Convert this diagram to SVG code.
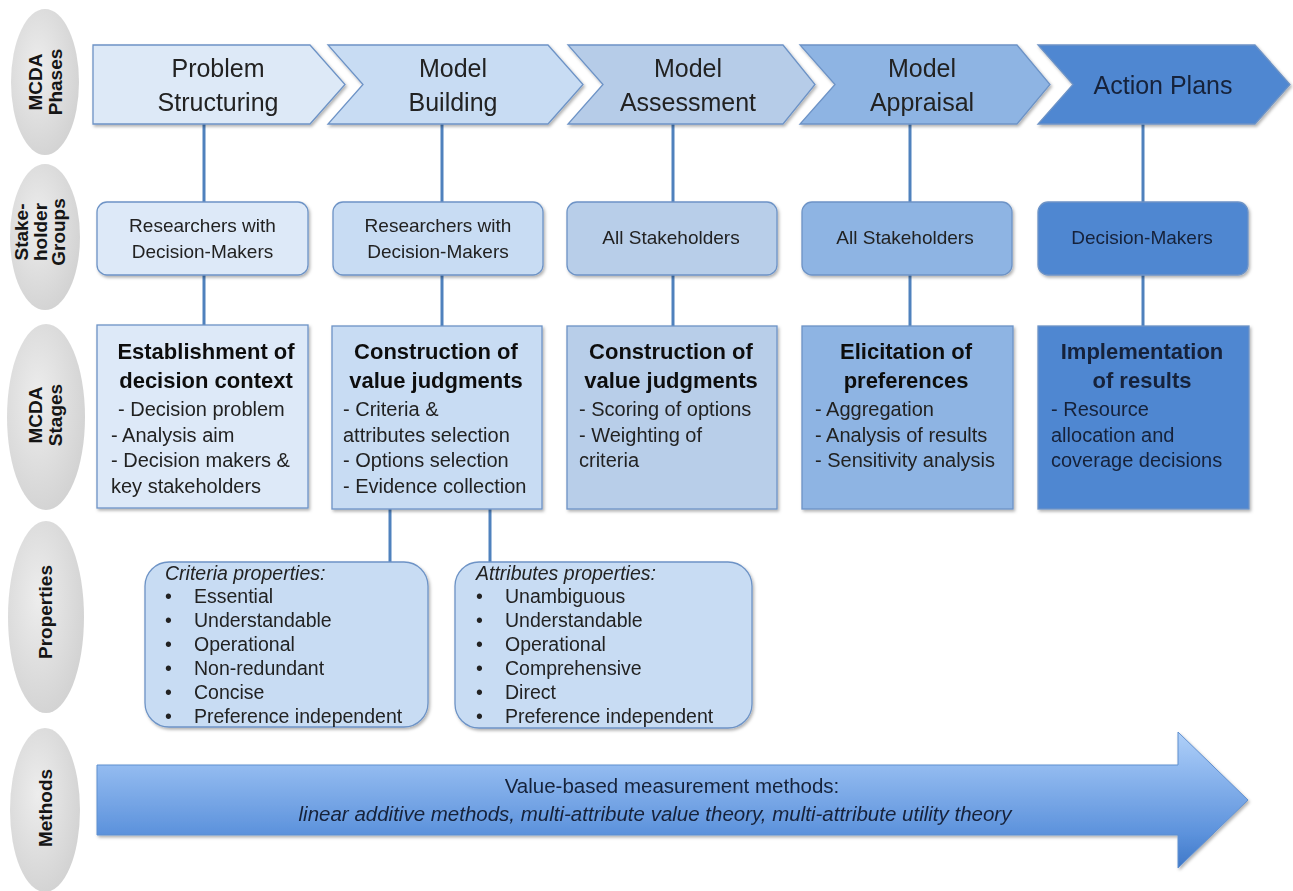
<svg xmlns="http://www.w3.org/2000/svg" width="1293" height="891" viewBox="0 0 1293 891">
<defs>
<style>
text{font-family:"Liberation Sans",Arial,sans-serif;fill:#222}
.lbl{font-weight:bold;font-size:19px;text-anchor:middle;fill:#151515}
.ph{font-size:25px;text-anchor:middle}
.sh{font-size:19px;text-anchor:middle}
.tt{font-size:22px;font-weight:bold;text-anchor:middle;fill:#111}
.it{font-size:20px}
.pr{font-size:19.5px}
.pt{font-size:19.5px;font-style:italic}
.box{stroke:#6d93c6;stroke-width:1.3}
.con{stroke:#4f81bd;stroke-width:3;fill:none}
.dk{fill:#16223a}
</style>
<radialGradient id="eg" cx="0.4" cy="0.4" r="0.7"><stop offset="0" stop-color="#ededed"/><stop offset="1" stop-color="#d0d0d0"/></radialGradient>
<linearGradient id="ag" gradientUnits="userSpaceOnUse" x1="0" y1="732" x2="0" y2="868"><stop offset="0" stop-color="#b0d0f8"/><stop offset="0.25" stop-color="#93bbf0"/><stop offset="0.75" stop-color="#5c92dc"/><stop offset="1" stop-color="#3f78c8"/></linearGradient>
<filter id="sd" x="-5%" y="-5%" width="115%" height="125%"><feDropShadow dx="1.5" dy="2" stdDeviation="1.5" flood-color="#000" flood-opacity="0.3"/></filter>
</defs>
<rect width="1293" height="891" fill="#fff"/>

<g id="row-labels">
<g id="lbl-phases"><ellipse cx="45" cy="82" rx="34" ry="73" fill="url(#eg)"/>
<g transform="translate(45,82) rotate(-90)"><text class="lbl" x="0" y="-3">MCDA</text><text class="lbl" x="0" y="17">Phases</text></g></g>
<g id="lbl-groups"><ellipse cx="45" cy="237" rx="35" ry="73" fill="url(#eg)"/>
<g transform="translate(45,232) rotate(-90)"><text class="lbl" x="0" y="-17">Stake-</text><text class="lbl" x="0" y="2">holder</text><text class="lbl" x="0" y="20">Groups</text></g></g>
<g id="lbl-stages"><ellipse cx="46" cy="417" rx="39" ry="93" fill="url(#eg)"/>
<g transform="translate(45,415) rotate(-90)"><text class="lbl" x="0" y="-3">MCDA</text><text class="lbl" x="0" y="17">Stages</text></g></g>
<g id="lbl-properties"><ellipse cx="46" cy="617" rx="38" ry="96" fill="url(#eg)"/>
<g transform="translate(45,612) rotate(-90)"><text class="lbl" x="0" y="7">Properties</text></g></g>
<g id="lbl-methods"><ellipse cx="45" cy="810" rx="35" ry="82" fill="url(#eg)"/>
<g transform="translate(45,808) rotate(-90)"><text class="lbl" x="0" y="7">Methods</text></g></g>
</g>

<g id="connectors">
<path class="con" d="M204,124V202M204,275V325M442,124V202M442,275V326M673,124V202M673,275V326M910,124V202M910,275V326M1143,124V202M1143,275V326M390,509V562M490,509V562"/>
</g>

<g id="phase-1" filter="url(#sd)"><path class="box" d="M93,45H310L345,84.5L310,124H93Z" fill="#dde9f7"/>
<text class="ph" x="218" y="77">Problem</text><text class="ph" x="218" y="111">Structuring</text></g>
<g id="phase-2" filter="url(#sd)"><path class="box" d="M328,45H548L583,84.5L548,124H328L363,84.5Z" fill="#c8dcf3"/>
<text class="ph" x="453" y="77">Model</text><text class="ph" x="453" y="111">Building</text></g>
<g id="phase-3" filter="url(#sd)"><path class="box" d="M568,45H783L815,84.5L783,124H568L603,84.5Z" fill="#b6cce8"/>
<text class="ph" x="688" y="77">Model</text><text class="ph" x="688" y="111">Assessment</text></g>
<g id="phase-4" filter="url(#sd)"><path class="box" d="M800,45H1017L1050,84.5L1017,124H800L835,84.5Z" fill="#8eb4e3"/>
<text class="ph" x="922" y="77">Model</text><text class="ph" x="922" y="111">Appraisal</text></g>
<g id="phase-5" filter="url(#sd)"><path class="box" d="M1038,45H1255L1290,84.5L1255,124H1038L1073,84.5Z" fill="#4f87d1"/>
<text class="ph dk" x="1163" y="94">Action Plans</text></g>

<g id="group-1" filter="url(#sd)"><rect class="box" x="97" y="202" width="211" height="73" rx="10" fill="#dde9f8"/>
<text class="sh" x="202.5" y="232">Researchers with</text><text class="sh" x="202.5" y="258">Decision-Makers</text></g>
<g id="group-2" filter="url(#sd)"><rect class="box" x="333" y="202" width="210" height="73" rx="10" fill="#c8dcf3"/>
<text class="sh" x="438" y="232">Researchers with</text><text class="sh" x="438" y="258">Decision-Makers</text></g>
<g id="group-3" filter="url(#sd)"><rect class="box" x="567" y="202" width="210" height="73" rx="10" fill="#b8cee9"/>
<text class="sh" x="671" y="244">All Stakeholders</text></g>
<g id="group-4" filter="url(#sd)"><rect class="box" x="802" y="202" width="210" height="73" rx="10" fill="#8eb4e3"/>
<text class="sh" x="905" y="244">All Stakeholders</text></g>
<g id="group-5" filter="url(#sd)"><rect class="box" x="1038" y="202" width="210" height="73" rx="10" fill="#4f87d1"/>
<text class="sh dk" x="1142" y="244">Decision-Makers</text></g>

<g id="stage-1" filter="url(#sd)"><rect class="box" x="97" y="325" width="211" height="183" fill="#dde9f8"/>
<text class="tt" x="206" y="359">Establishment of</text><text class="tt" x="206" y="388">decision context</text>
<text class="it" x="118" y="416">- Decision problem</text><text class="it" x="111" y="442">- Analysis aim</text><text class="it" x="111" y="467">- Decision makers &amp;</text><text class="it" x="111" y="493">key stakeholders</text></g>
<g id="stage-2" filter="url(#sd)"><rect class="box" x="332" y="326" width="210" height="183" fill="#c8dcf3"/>
<text class="tt" x="436" y="359">Construction of</text><text class="tt" x="436" y="388">value judgments</text>
<text class="it" x="343" y="416">- Criteria &amp;</text><text class="it" x="343" y="442">attributes selection</text><text class="it" x="343" y="467">- Options selection</text><text class="it" x="343" y="493">- Evidence collection</text></g>
<g id="stage-3" filter="url(#sd)"><rect class="box" x="567" y="326" width="210" height="183" fill="#b8cee9"/>
<text class="tt" x="671" y="359">Construction of</text><text class="tt" x="671" y="388">value judgments</text>
<text class="it" x="579" y="416">- Scoring of options</text><text class="it" x="579" y="442">- Weighting of</text><text class="it" x="579" y="467">criteria</text></g>
<g id="stage-4" filter="url(#sd)"><rect class="box" x="802" y="326" width="211" height="183" fill="#8eb4e3"/>
<text class="tt" x="906" y="359">Elicitation of</text><text class="tt" x="906" y="388">preferences</text>
<text class="it" x="815" y="416">- Aggregation</text><text class="it" x="815" y="442">- Analysis of results</text><text class="it" x="815" y="467">- Sensitivity analysis</text></g>
<g id="stage-5" filter="url(#sd)"><rect class="box" x="1038" y="326" width="211" height="183" fill="#4f87d1"/>
<text class="tt dk" x="1142" y="359">Implementation</text><text class="tt dk" x="1142" y="388">of results</text>
<text class="it dk" x="1051" y="416">- Resource</text><text class="it dk" x="1051" y="442">allocation and</text><text class="it dk" x="1051" y="467">coverage decisions</text></g>

<g id="criteria-properties" filter="url(#sd)"><rect class="box" x="145" y="562" width="283" height="165" rx="24" fill="#c8dcf3"/>
<text class="pt" x="165" y="580">Criteria properties:</text>
<g class="pr"><text x="165" y="603">•</text><text x="194" y="603">Essential</text>
<text x="165" y="627">•</text><text x="194" y="627">Understandable</text>
<text x="165" y="651">•</text><text x="194" y="651">Operational</text>
<text x="165" y="675">•</text><text x="194" y="675">Non-redundant</text>
<text x="165" y="699">•</text><text x="194" y="699">Concise</text>
<text x="165" y="723">•</text><text x="194" y="723">Preference independent</text></g></g>
<g id="attributes-properties" filter="url(#sd)"><rect class="box" x="455" y="562" width="297" height="166" rx="24" fill="#c8dcf3"/>
<text class="pt" x="476" y="580">Attributes properties:</text>
<g class="pr"><text x="476" y="603">•</text><text x="505" y="603">Unambiguous</text>
<text x="476" y="627">•</text><text x="505" y="627">Understandable</text>
<text x="476" y="651">•</text><text x="505" y="651">Operational</text>
<text x="476" y="675">•</text><text x="505" y="675">Comprehensive</text>
<text x="476" y="699">•</text><text x="505" y="699">Direct</text>
<text x="476" y="723">•</text><text x="505" y="723">Preference independent</text></g></g>

<g id="methods" filter="url(#sd)"><path d="M97,765H1178V732L1248,800L1178,868V835H97Z" fill="url(#ag)" stroke="#5f8fcf" stroke-width="1"/>
<text class="dk" x="672" y="793" font-size="20.5" text-anchor="middle">Value-based measurement methods:</text>
<text class="dk" x="655" y="821" font-size="20.5" font-style="italic" text-anchor="middle">linear additive methods, multi-attribute value theory, multi-attribute utility theory</text></g>
</svg>
